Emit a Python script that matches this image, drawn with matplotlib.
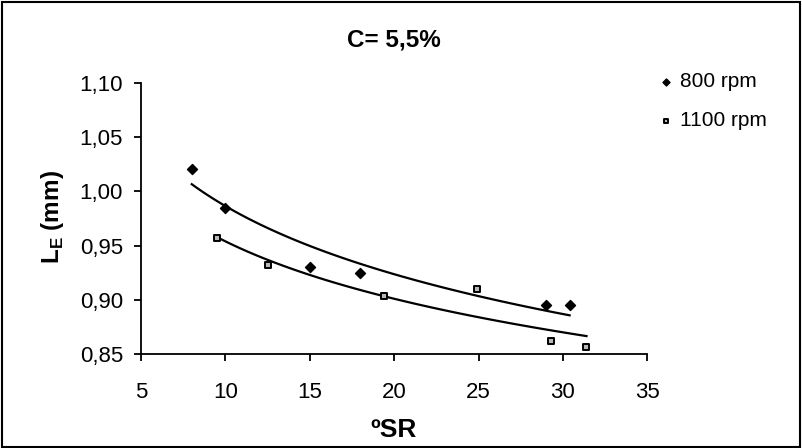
import numpy as np
import matplotlib.pyplot as plt
from matplotlib.ticker import FuncFormatter
from matplotlib.patches import Rectangle

plt.rcParams['font.family'] = ['Liberation Sans', 'DejaVu Sans']
plt.rcParams['mathtext.fontset'] = 'custom'
plt.rcParams['mathtext.rm'] = 'Liberation Sans'
plt.rcParams['mathtext.bf'] = 'Liberation Sans:bold'

# data
sr_800 = [8.0, 10.0, 15.0, 18.0, 29.0, 30.4]
le_800 = [1.021, 0.985, 0.930, 0.925, 0.895, 0.895]
sr_1100 = [9.5, 12.5, 19.4, 24.9, 29.3, 31.4]
le_1100 = [0.957, 0.932, 0.903, 0.910, 0.862, 0.856]

def log_fit(x, y):
    b, a = np.polyfit(np.log(x), y, 1)
    xs = np.linspace(min(x), max(x), 100)
    return xs, a + b * np.log(xs)

fig = plt.figure(figsize=(8.02, 4.48), dpi=100)
ax = fig.add_axes([0.176, 0.210, 0.631, 0.605])

ax.scatter(sr_800, le_800, marker='D', s=26, c='black', label='800 rpm', zorder=3)
ax.scatter(sr_1100, le_1100, marker='s', s=24, c='#b8b8b8', edgecolors='black',
           linewidths=1.4, label='1100 rpm', zorder=3)

xs, ys = log_fit(sr_800, le_800)
ax.plot(xs, ys, color='black', lw=1.6)
xs, ys = log_fit(sr_1100, le_1100)
ax.plot(xs, ys, color='black', lw=1.6)

ax.set_xlim(5, 35)
ax.set_ylim(0.85, 1.10)
ax.set_xticks(range(5, 36, 5))
ax.set_yticks(np.arange(0.85, 1.101, 0.05))
ax.yaxis.set_major_formatter(FuncFormatter(lambda v, p: f"{v:.2f}".replace('.', ',')))
ax.tick_params(labelsize=16, direction='out', length=5, width=1.3)
ax.tick_params(axis='x', pad=15)
ax.tick_params(axis='y', pad=8)
for s in ['top', 'right']:
    ax.spines[s].set_visible(False)
for s in ['left', 'bottom']:
    ax.spines[s].set_linewidth(1.3)

fig.text(394 / 802, 1 - 40 / 448, 'C= 5,5%', fontsize=17.5, fontweight='bold',
         ha='center', va='center')
fig.text(394 / 802, 1 - 430 / 448, 'ºSR', fontsize=19, fontweight='bold',
         ha='center', va='center')
fig.text(52 / 802, 1 - 217 / 448, r'L$_{\mathbf{E}}$ (mm)', fontsize=17.5,
         fontweight='bold', rotation=90, ha='center', va='center')

ax.legend(loc='upper left', bbox_to_anchor=(1.0, 1.07), frameon=False,
          fontsize=15, handletextpad=0.15, labelspacing=0.95, handlelength=1,
          markerscale=0.7, borderaxespad=0)

fig.patches.append(Rectangle((0.002, 0.003), 0.995, 0.993, transform=fig.transFigure,
                             fill=False, edgecolor='black', lw=1.5))

fig.savefig('out.png', dpi=100)
